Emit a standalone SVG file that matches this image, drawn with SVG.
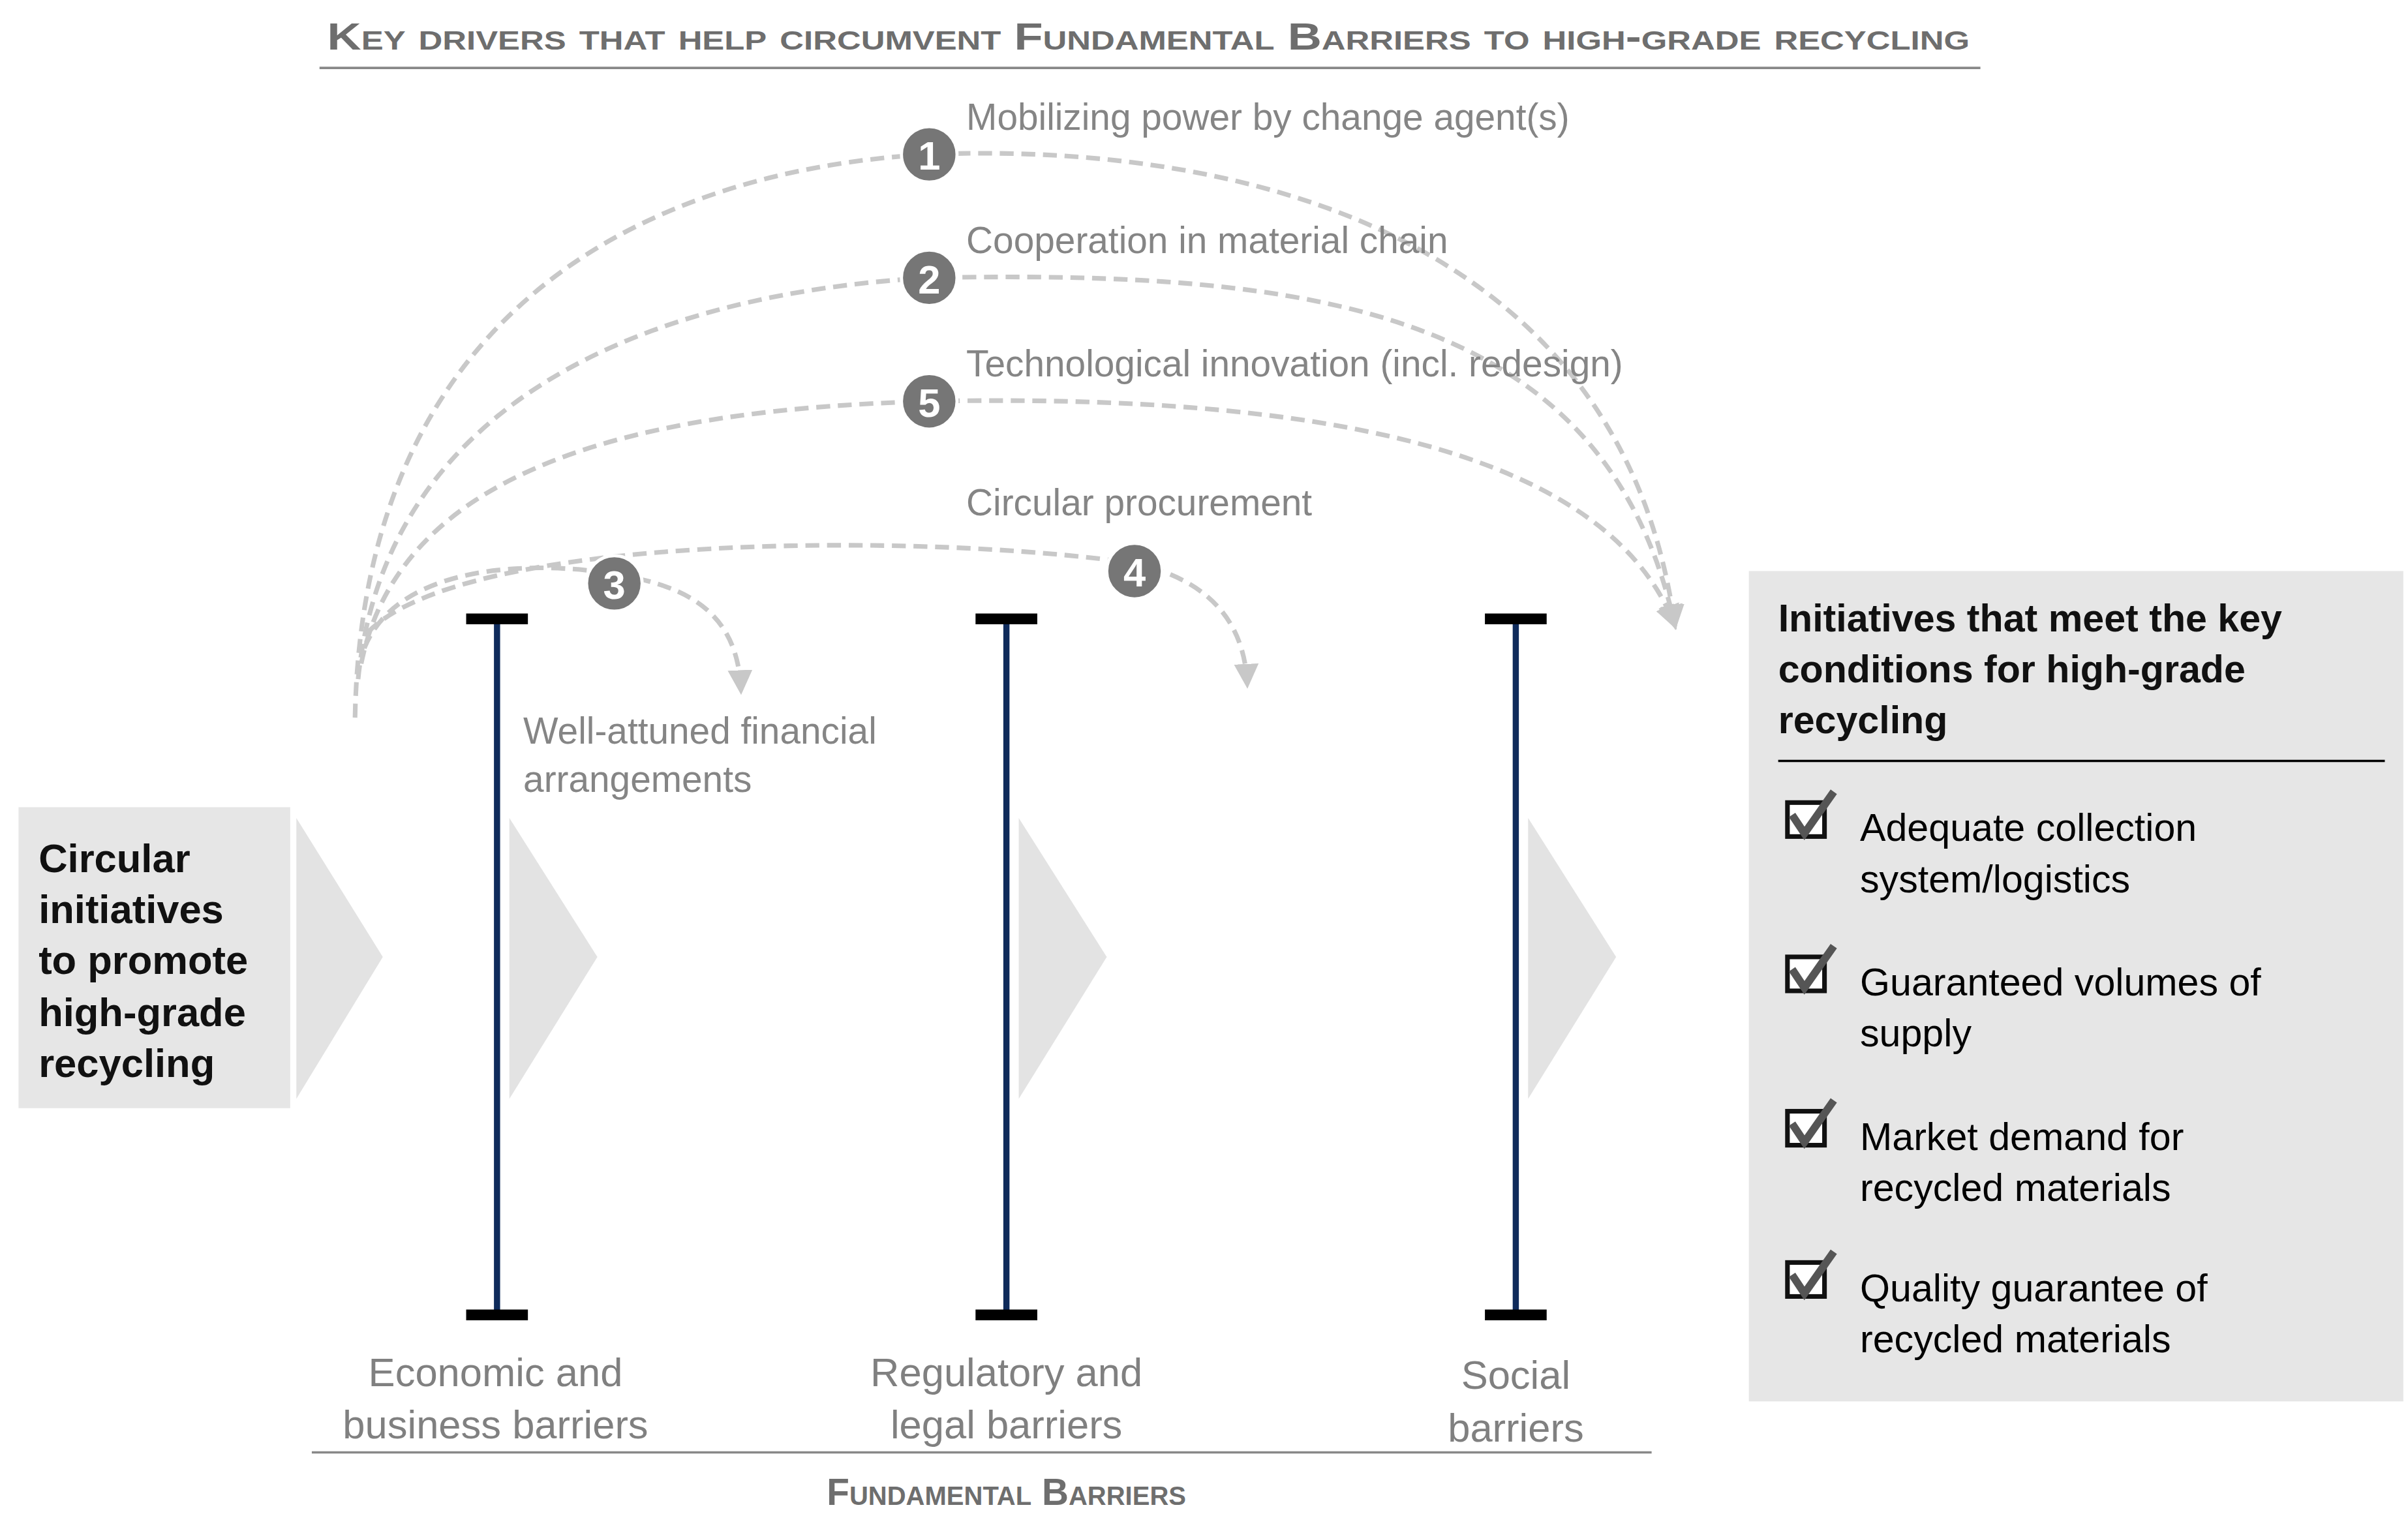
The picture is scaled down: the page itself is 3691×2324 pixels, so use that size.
<svg xmlns="http://www.w3.org/2000/svg" width="3691" height="2324" viewBox="0 0 3691 2324">
<style>
.t{font-family:"Liberation Sans",Arial,sans-serif}
.g{fill:#858585;font-size:24px}
.b{fill:#808080;font-size:26px}
.k{fill:#000;font-size:25px}
.h{fill:#111;font-size:26px;font-weight:bold}
.sc{font-variant:small-caps;font-weight:bold;fill:#6e6e6e;font-size:24px}
.dash{fill:none;stroke:#c8c8c8;stroke-width:3;stroke-dasharray:9 5}
.chev{fill:#e3e3e3}
.bar{stroke:#0f2b5b;stroke-width:4}
.cap{stroke:#000;stroke-width:7}
.badge{fill:#767676;stroke:#fff;stroke-width:2}
.num{fill:#fff;font-size:26px;font-weight:bold;text-anchor:middle}
</style>
<defs>
<marker id="ar" viewBox="0 0 10 10" refX="5" refY="9" markerWidth="5" markerHeight="5" orient="auto" markerUnits="userSpaceOnUse">
<path d="M0,0 L10,5 L0,10 z" fill="#c8c8c8"/>
</marker>
<marker id="ah" viewBox="0 0 10 10" refX="8" refY="5" markerWidth="16" markerHeight="16" orient="auto" markerUnits="userSpaceOnUse">
<path d="M0,0 L10,5 L0,10 z" fill="#c8c8c8"/>
</marker>
<g id="chk">
<rect x="0" y="4" width="24" height="22" fill="#fff" stroke="#111" stroke-width="3"/>
<path d="M3,12 L11,24 L30,-3" fill="none" stroke="#555" stroke-width="5"/>
</g>
</defs>
<g transform="scale(2.366)">
<g id="title">
<text class="t sc" x="212" y="32" textLength="1064" lengthAdjust="spacingAndGlyphs">Key drivers that help circumvent Fundamental Barriers to high-grade recycling</text>
<line x1="207" y1="44" x2="1283" y2="44" stroke="#888" stroke-width="1.5"/>
</g>
<g id="connectors">
<path class="dash" marker-end="url(#ah)" d="M230,465 C235,200 420,110 602,100 C800,92 1050,150 1085,405"/>
<path class="dash" marker-end="url(#ah)" d="M232,440 C250,260 420,190 602,180 C850,175 1040,200 1085,405"/>
<path class="dash" marker-end="url(#ah)" d="M234,430 C260,300 420,265 602,260 C850,255 1040,290 1085,405"/>
<path class="dash" marker-end="url(#ah)" d="M236,420 C260,360 360,365 398,372 C450,380 478,400 480,447"/>
<path class="dash" marker-end="url(#ah)" d="M238,410 C300,345 600,345 735,365 C780,375 806,400 808,443"/>
</g>
<g id="driver1"><circle class="badge" cx="602" cy="100" r="18"/><text class="t num" x="602" y="110">1</text>
<text class="t g" x="626" y="84">Mobilizing power by change agent(s)</text></g>
<g id="driver2"><circle class="badge" cx="602" cy="180" r="18"/><text class="t num" x="602" y="190">2</text>
<text class="t g" x="626" y="164">Cooperation in material chain</text></g>
<g id="driver5"><circle class="badge" cx="602" cy="260" r="18"/><text class="t num" x="602" y="270">5</text>
<text class="t g" x="626" y="244">Technological innovation (incl. redesign)</text></g>
<g id="driver3"><circle class="badge" cx="398" cy="378" r="18"/><text class="t num" x="398" y="388">3</text>
<text class="t g" x="339" y="482">Well-attuned financial</text><text class="t g" x="339" y="513">arrangements</text></g>
<g id="driver4"><circle class="badge" cx="735" cy="370" r="18"/><text class="t num" x="735" y="380">4</text>
<text class="t g" x="626" y="334">Circular procurement</text></g>
<g id="start">
<rect x="12" y="523" width="176" height="195" fill="#e6e6e6"/>
<text class="t h" x="25" y="565">Circular</text>
<text class="t h" x="25" y="598">initiatives</text>
<text class="t h" x="25" y="631">to promote</text>
<text class="t h" x="25" y="665">high-grade</text>
<text class="t h" x="25" y="698">recycling</text>
</g>
<g id="chevrons">
<path class="chev" d="M192,530 L248,620 L192,712 z"/>
<path class="chev" d="M330,530 L387,620 L330,712 z"/>
<path class="chev" d="M660,530 L717,620 L660,712 z"/>
<path class="chev" d="M990,530 L1047,620 L990,712 z"/>
</g>
<g id="barrier-economic">
<line class="bar" x1="322" y1="400" x2="322" y2="852"/>
<line class="cap" x1="302" y1="401" x2="342" y2="401"/><line class="cap" x1="302" y1="852" x2="342" y2="852"/>
<text class="t b" x="321" y="898" text-anchor="middle">Economic and</text>
<text class="t b" x="321" y="932" text-anchor="middle">business barriers</text>
</g>
<g id="barrier-regulatory">
<line class="bar" x1="652" y1="400" x2="652" y2="852"/>
<line class="cap" x1="632" y1="401" x2="672" y2="401"/><line class="cap" x1="632" y1="852" x2="672" y2="852"/>
<text class="t b" x="652" y="898" text-anchor="middle">Regulatory and</text>
<text class="t b" x="652" y="932" text-anchor="middle">legal barriers</text>
</g>
<g id="barrier-social">
<line class="bar" x1="982" y1="400" x2="982" y2="852"/>
<line class="cap" x1="962" y1="401" x2="1002" y2="401"/><line class="cap" x1="962" y1="852" x2="1002" y2="852"/>
<text class="t b" x="982" y="900" text-anchor="middle">Social</text>
<text class="t b" x="982" y="934" text-anchor="middle">barriers</text>
</g>
<g id="footer">
<line x1="202" y1="941" x2="1070" y2="941" stroke="#888" stroke-width="1.5"/>
<text class="t sc" x="652" y="975" text-anchor="middle">Fundamental Barriers</text>
</g>
<g id="conditions">
<rect x="1133" y="370" width="424" height="538" fill="#e6e6e6"/>
<text class="t h" x="1152" y="409" style="font-size:25px">Initiatives that meet the key</text>
<text class="t h" x="1152" y="442" style="font-size:25px">conditions for high-grade</text>
<text class="t h" x="1152" y="475" style="font-size:25px">recycling</text>
<line x1="1152" y1="493" x2="1545" y2="493" stroke="#000" stroke-width="1.5"/>
<use href="#chk" x="1158" y="516"/>
<text class="t k" x="1205" y="545">Adequate collection</text><text class="t k" x="1205" y="578">system/logistics</text>
<use href="#chk" x="1158" y="616"/>
<text class="t k" x="1205" y="645">Guaranteed volumes of</text><text class="t k" x="1205" y="678">supply</text>
<use href="#chk" x="1158" y="716"/>
<text class="t k" x="1205" y="745">Market demand for</text><text class="t k" x="1205" y="778">recycled materials</text>
<use href="#chk" x="1158" y="814"/>
<text class="t k" x="1205" y="843">Quality guarantee of</text><text class="t k" x="1205" y="876">recycled materials</text>
</g>
</g>
</svg>
